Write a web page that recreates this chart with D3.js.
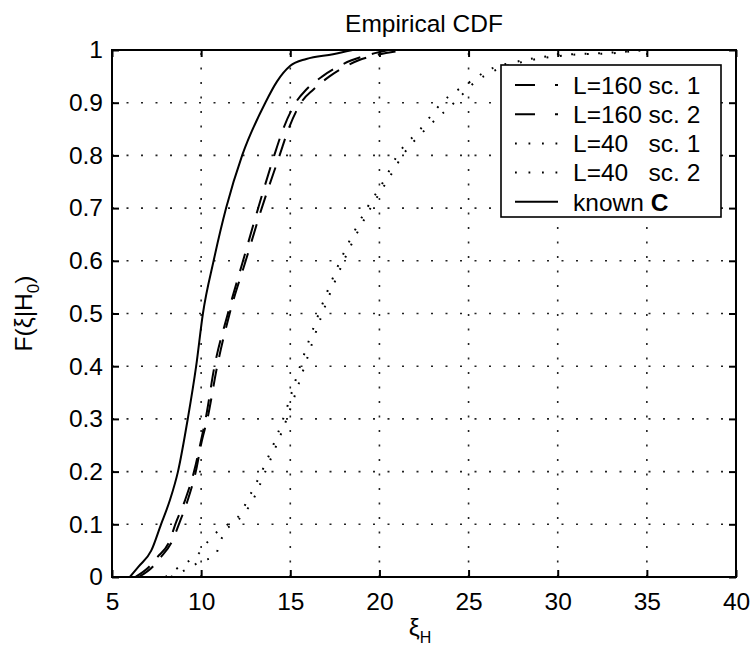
<!DOCTYPE html>
<html>
<head>
<meta charset="utf-8">
<script src="https://cdn.jsdelivr.net/npm/d3@7"></script>
<style>
  html, body { margin: 0; padding: 0; background: #fff; }
  svg { display: block; }
  text { font-family: "Liberation Sans", Arial, Helvetica, sans-serif; fill: #000; }
</style>
</head>
<body>
<svg id="chart" width="752" height="649"></svg>
<script>
// Empirical CDF of the test statistic xi_H under H0 for several scenarios.
const xTicks = [5, 10, 15, 20, 25, 30, 35, 40];
const yTicks = [0, 0.1, 0.2, 0.3, 0.4, 0.5, 0.6, 0.7, 0.8, 0.9, 1];
const yTickLabels = ["0", "0.1", "0.2", "0.3", "0.4", "0.5", "0.6", "0.7", "0.8", "0.9", "1"];

// known C (solid)
const knownX = [6.0, 6.5, 7.2, 7.75, 8.25, 8.7, 9.25, 9.72, 10.1, 10.7, 11.4, 12.3, 13.6, 14.25, 15.0, 15.9, 17.4, 18.5];
const knownF = [0, 0.02, 0.05, 0.1, 0.146, 0.2, 0.3, 0.4, 0.5, 0.6, 0.7, 0.8, 0.9, 0.94, 0.97, 0.983, 0.992, 1.0];

// L=160, two scenarios (dashed)
const l160F  = [0, 0.02, 0.036, 0.07, 0.1, 0.146, 0.2, 0.26, 0.3, 0.4, 0.5, 0.6, 0.7, 0.8, 0.85, 0.9, 0.925, 0.95, 0.967, 0.98, 0.99, 1.0];
const l160s1 = [6.3, 7.1, 7.5, 8.25, 8.55, 9.1, 9.6, 10.0, 10.25, 10.75, 11.5, 12.35, 13.2, 14.1, 14.6, 15.3, 15.9, 16.8, 17.6, 18.4, 19.3, 20.5];
const l160s2 = [6.5, 7.3, 7.7, 8.4, 8.75, 9.25, 9.7, 10.05, 10.35, 10.9, 11.6, 12.5, 13.4, 14.4, 14.9, 15.6, 16.3, 17.2, 18.0, 18.8, 19.8, 21.5];

// L=40, two scenarios (dotted)
const l40F  = [0, 0.015, 0.03, 0.04, 0.06, 0.09, 0.1, 0.12, 0.146, 0.2, 0.3, 0.4, 0.5, 0.6, 0.7, 0.755, 0.8, 0.85, 0.9, 0.94, 0.96, 0.98, 0.99, 0.995, 1.0];
const l40s1 = [8.0, 8.6, 9.3, 9.75, 10.2, 11.05, 11.5, 12.2, 12.6, 13.4, 14.6, 15.55, 16.6, 17.8, 19.3, 20.3, 21.0, 22.3, 23.5, 25.1, 26.0, 28.0, 30.0, 33.0, 35.0];
const l40s2 = [8.3, 9.2, 10.0, 10.8, 11.0, 11.4, 11.8, 12.4, 12.9, 13.6, 14.8, 15.8, 16.8, 18.0, 19.5, 20.5, 21.3, 22.6, 24.2, 25.4, 26.4, 28.4, 30.5, 33.5, 34.5];

const legendLabels = ["L=160 sc. 1", "L=160 sc. 2", "L=40   sc. 1", "L=40   sc. 2", "known "];

const W = 752, H = 649;
const margin = { left: 112, right: 16, top: 50, bottom: 72 };
const FS = 24.5;

const svg = d3.select("#chart");
const x = d3.scaleLinear().domain([5, 40]).range([margin.left, W - margin.right]);
const y = d3.scaleLinear().domain([0, 1]).range([H - margin.bottom, margin.top]);

const styles = {
  dashed: { width: 2, dash: "18,12", legendDash: "20,20" },
  dotted: { width: 2, dash: "1.8,11.7", legendDash: "1.8,11.7" },
  solid:  { width: 2, dash: null, legendDash: null }
};

const series = [
  { xs: l160s1, fs: l160F, style: "dashed" },
  { xs: l160s2, fs: l160F, style: "dashed" },
  { xs: l40s1,  fs: l40F,  style: "dotted" },
  { xs: l40s2,  fs: l40F,  style: "dotted" },
  { xs: knownX, fs: knownF, style: "solid" }
];

// grid (dotted)
const grid = svg.append("g").attr("stroke", "#222").attr("stroke-width", 1.6).attr("stroke-dasharray", "2,12.5");
xTicks.slice(1, -1).forEach(v => {
  grid.append("line").attr("x1", x(v)).attr("x2", x(v)).attr("y1", y(0)).attr("y2", y(1));
});
yTicks.slice(1, -1).forEach(v => {
  grid.append("line").attr("x1", x(5)).attr("x2", x(40)).attr("y1", y(v)).attr("y2", y(v));
});

// curves
const line = d3.line().x(d => x(d[0])).y(d => y(d[1])).curve(d3.curveMonotoneX);
series.forEach(s => {
  const pts = s.xs.map((v, i) => [v, s.fs[i]]);
  const st = styles[s.style];
  svg.append("path")
    .attr("d", line(pts))
    .attr("fill", "none")
    .attr("stroke", "#000")
    .attr("stroke-width", st.width)
    .attr("stroke-dasharray", st.dash);
});

// axes with inward ticks on all four sides
const tickLen = 7;
const axB = d3.axisBottom(x).tickValues(xTicks).tickSize(-tickLen).tickPadding(16);
const axT = d3.axisTop(x).tickValues(xTicks).tickSize(-tickLen).tickFormat("");
const axL = d3.axisLeft(y).tickValues(yTicks).tickSize(-tickLen).tickPadding(9)
  .tickFormat((d, i) => yTickLabels[i]);
const axR = d3.axisRight(y).tickValues(yTicks).tickSize(-tickLen).tickFormat("");

function styleAxis(g) {
  g.selectAll(".domain").remove();
  g.selectAll(".tick line").attr("stroke", "#000").attr("stroke-width", 2);
  g.selectAll("text").attr("font-size", FS).attr("fill", "#000")
    .attr("font-family", "Liberation Sans, Arial, Helvetica, sans-serif");
}
svg.append("g").attr("transform", `translate(0,${y(0)})`).call(axB).call(styleAxis);
svg.append("g").attr("transform", `translate(0,${y(1)})`).call(axT).call(styleAxis);
svg.append("g").attr("transform", `translate(${x(5)},0)`).call(axL).call(styleAxis);
svg.append("g").attr("transform", `translate(${x(40)},0)`).call(axR).call(styleAxis);

// box
svg.append("rect")
  .attr("x", x(5)).attr("y", y(1))
  .attr("width", x(40) - x(5)).attr("height", y(0) - y(1))
  .attr("fill", "none").attr("stroke", "#000").attr("stroke-width", 2);

// title
svg.append("text")
  .attr("x", (x(5) + x(40)) / 2).attr("y", 32)
  .attr("text-anchor", "middle").attr("font-size", FS)
  .text("Empirical CDF");

// x label: xi with subscript H
const xl = svg.append("text")
  .attr("x", (x(5) + x(40)) / 2 - 4).attr("y", 636)
  .attr("text-anchor", "middle").attr("font-size", FS);
xl.append("tspan").text("ξ");
xl.append("tspan").attr("font-size", 16).attr("dy", 7).text("H");

// y label: F(xi|H0)
const yl = svg.append("text")
  .attr("transform", `translate(32,${(y(0) + y(1)) / 2}) rotate(-90)`)
  .attr("text-anchor", "middle").attr("font-size", FS);
yl.append("tspan").text("F(ξ|H");
yl.append("tspan").attr("font-size", 17).attr("dy", 7).text("0");
yl.append("tspan").attr("dy", -7).text(")");

// legend
const lg = svg.append("g");
const lgX = 501, lgY = 65, lgW = 220, lgH = 152, rowH = 29.2, row0 = 85;
lg.append("rect").attr("x", lgX).attr("y", lgY).attr("width", lgW).attr("height", lgH)
  .attr("fill", "#fff").attr("stroke", "#000").attr("stroke-width", 1.6);
series.forEach((s, i) => {
  const cy = row0 + i * rowH;
  const st = styles[s.style];
  lg.append("line").attr("x1", 515).attr("x2", 558).attr("y1", cy).attr("y2", cy)
    .attr("stroke", "#000").attr("stroke-width", st.width)
    .attr("stroke-dasharray", st.legendDash);
  const t = lg.append("text").attr("x", 573).attr("y", cy).attr("dy", "0.36em")
    .attr("font-size", FS).style("white-space", "pre").text(legendLabels[i]);
  if (i === 4) t.append("tspan").attr("font-weight", "bold").text("C");
});
</script>
</body>
</html>
